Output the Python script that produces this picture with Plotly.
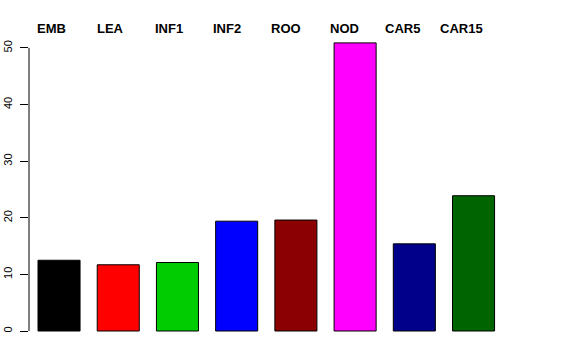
import plotly.graph_objects as go

categories = ["EMB", "LEA", "INF1", "INF2", "ROO", "NOD", "CAR5", "CAR15"]
values = [12.5, 11.7, 12.1, 19.4, 19.6, 50.9, 15.4, 23.9]
colors = ["#000000", "#FF0000", "#00CD00", "#0000FF", "#8B0000", "#FF00FF", "#00008B", "#006400"]
y_ticks = [0, 10, 20, 30, 40, 50]

fig = go.Figure()
fig.add_trace(go.Bar(
    x=list(range(len(categories))),
    y=values,
    marker=dict(color=colors, line=dict(color="#000000", width=1)),
    width=0.71,
    hoverinfo="skip",
))

annotations = []
for i, name in enumerate(categories):
    annotations.append(dict(
        x=i, y=1, xref="x", yref="paper",
        text="<b>%s</b>" % name, showarrow=False,
        xanchor="center", yanchor="bottom",
        xshift=-7.3 - 0.73 * i, yshift=-7,
        font=dict(family="Liberation Sans, Arial, sans-serif", size=13, color="#000000"),
    ))

fig.update_layout(
    width=576, height=360,
    margin=dict(l=29, r=16, t=31, b=17, pad=0),
    paper_bgcolor="white", plot_bgcolor="white",
    showlegend=False,
    hovermode=False,
    annotations=annotations,
    shapes=[dict(type="line", xref="paper", x0=0, x1=0, yref="y", y0=0, y1=50,
                 line=dict(color="#000000", width=1))],
    xaxis=dict(visible=False, range=[-0.507, 8.46], automargin=False),
    yaxis=dict(
        range=[-2.12, 53.0], tickvals=y_ticks, ticks="outside", ticklen=8,
        tickcolor="#000000", tickwidth=1, showline=False, showgrid=False,
        zeroline=False, tickangle=-90, automargin=False, ticklabelstandoff=4,
        tickfont=dict(family="Liberation Sans, Arial, sans-serif", size=11, color="#000000"),
    ),
)

fig.write_html("out.html", config={"displayModeBar": False},
               post_script="document.body.style.margin='0px';")
